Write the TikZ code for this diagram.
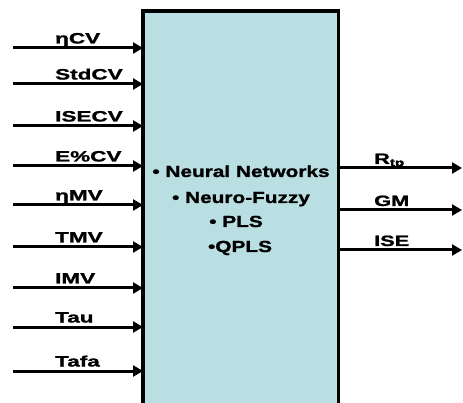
\documentclass[tikz,border=0pt]{standalone}
\usepackage{fontspec}
\setmainfont{Liberation Sans}
\newfontfamily\heavy[FakeBold=1.2]{Liberation Sans Bold}
\usetikzlibrary{arrows.meta}
\definecolor{boxfill}{HTML}{B9DFE2}
\begin{document}
\begin{tikzpicture}[x=1pt,y=-1pt,
  arr/.style={line width=3pt,-{Triangle[length=10pt,width=11pt]}},
  lab/.style={anchor=base west,inner sep=0pt,font=\heavy\fontsize{15}{15}\selectfont},
  mid/.style={anchor=base,inner sep=0pt,font=\heavy\fontsize{16}{16}\selectfont}]
\useasboundingbox (0,0) rectangle (463,403);
\begin{scope}
\clip (0,0) rectangle (463,403);
\node (box) [fill=boxfill,minimum width=195pt,minimum height=420pt,inner sep=0pt,anchor=north west] at (143,11) {};
\draw[line width=3.5pt] (box.south west) -- (box.north west) -- (box.north east) -- (box.south east);
\end{scope}
% inputs
\foreach \n/\y/\t in {1/48/ηCV,2/84/StdCV,3/126/ISECV,4/166/E\%CV,5/205/ηMV,6/247/TMV,7/288/IMV,8/327/Tau,9/371/Tafa}{
  \coordinate (in\n) at (13,\y);
  \draw[arr] (in\n) -- (in\n -| box.west);
  \node[lab] (l\n) at (55,\y-4.5) {\scalebox{1.5}[1]{\t}};
}
% outputs
\foreach \n/\y/\t in {1/168/R\textsubscript{tp},2/210/GM,3/250/ISE}{
  \coordinate (out\n) at (462,\y);
  \draw[arr] (out\n -| box.east) -- (out\n);
  \node[lab] (o\n) at (374,\y-4) {\scalebox{1.45}[1]{\t}};
}
% center text
\node[mid] (t1) at (241,177) {\scalebox{1.3}[1]{• Neural Networks}};
\node[mid] (t2) at (241,203) {\scalebox{1.3}[1]{• Neuro-Fuzzy}};
\node[mid] (t3) at (236,227) {\scalebox{1.3}[1]{• PLS}};
\node[mid] (t4) at (240,252) {\scalebox{1.3}[1]{•QPLS}};
\end{tikzpicture}
\end{document}
